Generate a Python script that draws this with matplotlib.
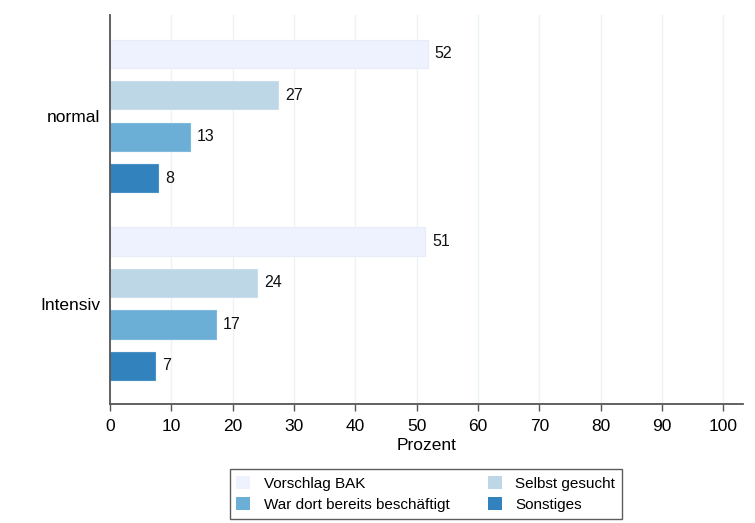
import numpy as np
import matplotlib
matplotlib.use("Agg")
from matplotlib import pyplot as plt
from matplotlib.patches import Patch

plt.rcParams['font.family'] = ['Liberation Sans', 'DejaVu Sans']

groups = ["normal", "Intensiv"]
series = ["Vorschlag BAK", "Selbst gesucht", "War dort bereits beschäftigt", "Sonstiges"]
normal_vals = [51.8, 27.4, 13.0, 7.8]
intensiv_vals = [51.4, 24.0, 17.3, 7.4]
colors = ['#eef2fe', '#bdd7e7', '#6baed6', '#3182bd']
edges = ['#e6ecfa', '#c9deec', '#7fbadd', '#4a92c6']

fig = plt.figure(figsize=(7.55, 5.23), dpi=100)
ax = fig.add_axes([0.1457, 0.2275, 0.8383, 0.7438])

group_start = [0.0, 4.525]
for g, vals in enumerate([normal_vals, intensiv_vals]):
    for k, v in enumerate(vals):
        y = group_start[g] + k
        ax.barh(y, v, height=0.68, color=colors[k], edgecolor=edges[k], lw=0.8, zorder=2)
        ax.annotate("%d" % round(v), (v, y), xytext=(5, 0), textcoords='offset points',
                    va='center', ha='left', fontsize=11.5, color='#111111')

ax.set_xlim(0, 103.2)
ax.set_ylim(7.525 + 0.92, -0.937)
ax.set_xticks(np.arange(0, 101, 10))
ax.tick_params(axis='x', labelsize=12.5, length=5, width=1, color='#555555', pad=6)
ax.set_yticks([1.5, 4.525 + 1.5])
ax.set_yticklabels(groups, fontsize=12.5)
ax.tick_params(axis='y', length=0, pad=7)
ax.grid(axis='x', color='#edf3f5', lw=1.0, zorder=0)
ax.set_axisbelow(True)
for s in ['top', 'right']:
    ax.spines[s].set_visible(False)
for s in ['left', 'bottom']:
    ax.spines[s].set_color('#555555')
    ax.spines[s].set_linewidth(1.3)
ax.set_xlabel("Prozent", fontsize=12.5, labelpad=3)

# legend filled row by row like the original
order = [0, 2, 1, 3]
handles = [Patch(facecolor=colors[k], edgecolor='none') for k in order]
labels = [series[k] for k in order]
fig.legend(handles, labels, loc='center', bbox_to_anchor=(0.564, 0.0555), ncol=2,
           fontsize=11, frameon=True, fancybox=False, edgecolor='#333333',
           handlelength=0.9, handleheight=0.9, columnspacing=2.5, borderpad=0.45,
           labelspacing=0.45, handletextpad=0.9)

plt.savefig("out.png", dpi=100)
